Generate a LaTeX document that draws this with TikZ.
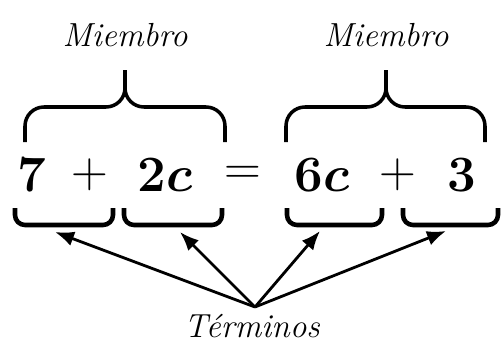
\RequirePackage{fix-cm}
\documentclass[tikz,border=0pt]{standalone}
\usepackage{amsmath}
\usepackage{tikz}
\usetikzlibrary{arrows.meta, calc}
\tikzset{
  term/.style={inner sep=0pt, font=\fontsize{29}{35}\selectfont},
  label/.style={inner sep=0pt, font=\fontsize{19}{23}\selectfont\itshape},
  upbrace/.style={line width=2pt, rounded corners=0.38cm},
  lowbrace/.style={line width=2.6pt, rounded corners=0.2cm},
  arrowline/.style={-{Latex[length=0.38cm, width=0.3cm]}, line width=1.6pt},
}
\begin{document}
\begin{tikzpicture}[x=0.02cm, y=-0.02cm]
\useasboundingbox (0,0) rectangle (501,345);
% equation
\node[term] (t1) at (32,175) {$\mathbf{7}$};
\node[term] (p1) at (90,175) {$+$};
\node[term] (t2) at (165,175) {$\boldsymbol{2c}$};
\node[term] (eq) at (243,175) {$=$};
\node[term] (t3) at (322,175) {$\boldsymbol{6c}$};
\node[term] (p2) at (398,175) {$+$};
\node[term] (t4) at (462,175) {$\mathbf{3}$};
% labels
\node[label] (m1) at (125,35) {Miembro};
\node[label] (m2) at (386,35) {Miembro};
\node[label] (terms) at (252,326) {Términos};
% members
\draw[upbrace] (25,142) -- (25,107) -- (125,107) -- (125,70)
               (225,142) -- (225,107) -- (125,107) -- (125,70);
\draw[upbrace] (286,142) -- (286,107) -- (386,107) -- (386,70)
               (485,142) -- (485,107) -- (386,107) -- (386,70);
% terms
\draw[lowbrace] (15,208) -- (15,225) -- (113,225) -- (113,208);
\draw[lowbrace] (124,208) -- (124,225) -- (222,225) -- (222,208);
\draw[lowbrace] (287,208) -- (287,225) -- (382,225) -- (382,208);
\draw[lowbrace] (403,208) -- (403,225) -- (498,225) -- (498,208);
\coordinate (apex) at (255,307);
\coordinate (b1) at (55,232);
\coordinate (b2) at (180,232);
\coordinate (b3) at (320,231);
\coordinate (b4) at (446,231);
\foreach \b in {b1,b2,b3,b4}
  \draw[arrowline] (apex) -- (\b);
\end{tikzpicture}
\end{document}
